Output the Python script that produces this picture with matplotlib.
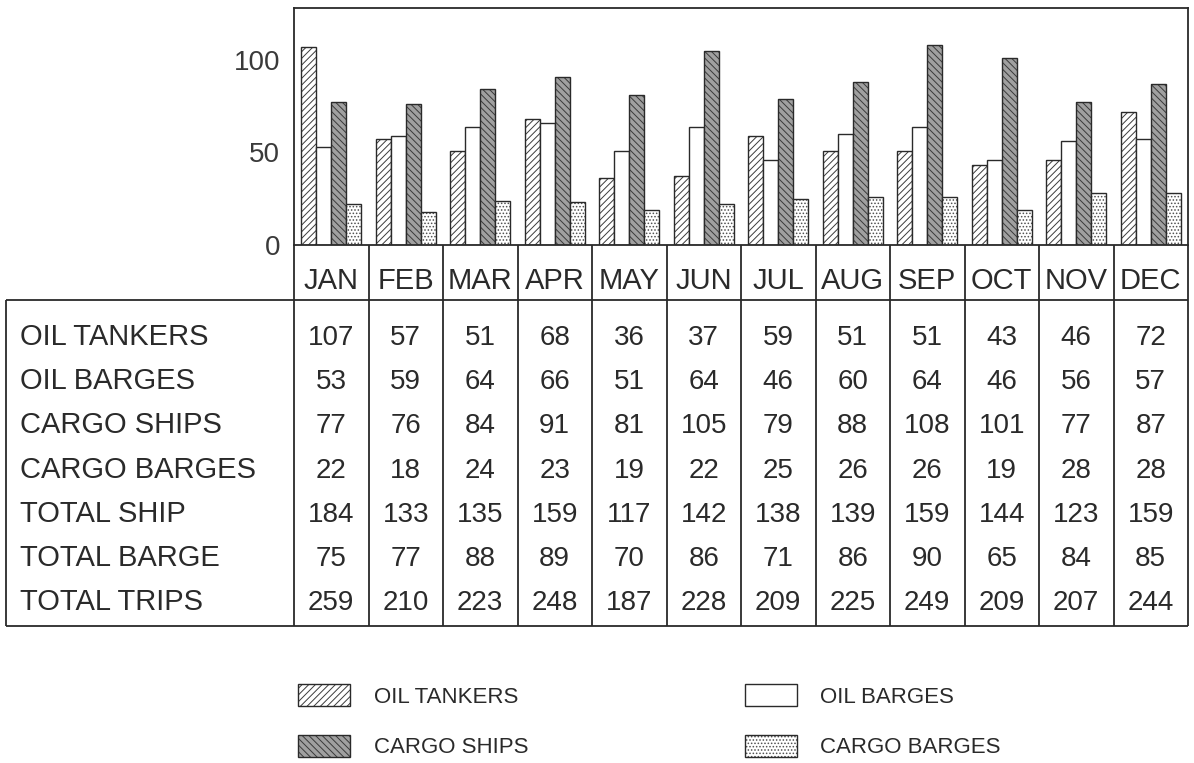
import matplotlib
matplotlib.use("Agg")
import matplotlib.pyplot as plt
from matplotlib.patches import Patch
from matplotlib.legend_handler import HandlerTuple
import numpy as np

plt.rcParams['font.family'] = ['Liberation Sans', 'DejaVu Sans']
plt.rcParams['hatch.linewidth'] = 0.7

# ---------------- data ----------------
months = ["JAN", "FEB", "MAR", "APR", "MAY", "JUN",
          "JUL", "AUG", "SEP", "OCT", "NOV", "DEC"]
oil_tankers = [107, 57, 51, 68, 36, 37, 59, 51, 51, 43, 46, 72]
oil_barges = [53, 59, 64, 66, 51, 64, 46, 60, 64, 46, 56, 57]
cargo_ships = [77, 76, 84, 91, 81, 105, 79, 88, 108, 101, 77, 87]
cargo_barges = [22, 18, 24, 23, 19, 22, 25, 26, 26, 19, 28, 28]
total_ship = [184, 133, 135, 159, 117, 142, 138, 139, 159, 144, 123, 159]
total_barge = [75, 77, 88, 89, 70, 86, 71, 86, 90, 65, 84, 85]
total_trips = [259, 210, 223, 248, 187, 228, 209, 225, 249, 209, 207, 244]
row_labels = ["OIL TANKERS", "OIL BARGES", "CARGO SHIPS", "CARGO BARGES",
              "TOTAL SHIP", "TOTAL BARGE", "TOTAL TRIPS"]
y_ticks = [0, 50, 100]

# ---------------- layout (pixels) ----------------
W, H = 1194, 763
AX_L, AX_R = 294, 1188
AX_T, AX_B = 8, 245
TB_L, TB_T, TB_B = 6, 300, 626
col_w = (AX_R - AX_L) / 12.0
INK = '#2a2a2a'
LW = 1.3

fig = plt.figure(figsize=(W / 100, H / 100), dpi=100)
fig.patch.set_facecolor('white')

ax = fig.add_axes([AX_L / W, 1 - AX_B / H, (AX_R - AX_L) / W, (AX_B - AX_T) / H])

styles = [
    dict(fc='white', hc='#3c3c3c', hatch='/////'),
    dict(fc='white', hc='#555555', hatch=None),
    dict(fc='#a0a0a0', hc='#3a3a3a', hatch='\\\\\\\\\\'),
    dict(fc='white', hc='#505050', hatch='.....'),
]
series = [oil_tankers, oil_barges, cargo_ships, cargo_barges]
names = ["OIL TANKERS", "OIL BARGES", "CARGO SHIPS", "CARGO BARGES"]
x = np.arange(len(months))
bw = 0.2
handles = []
for i, (vals, st) in enumerate(zip(series, styles)):
    pos = x + (i - 1.5) * bw
    ax.bar(pos, vals, bw, facecolor=st['fc'], edgecolor=st['hc'],
           hatch=st['hatch'], linewidth=0)
    ax.bar(pos, vals, bw, fill=False, edgecolor=INK, linewidth=1.0)
    handles.append((Patch(facecolor=st['fc'], edgecolor=st['hc'], hatch=st['hatch'], linewidth=0),
                    Patch(fill=False, edgecolor=INK, linewidth=1.0)))

ax.set_xlim(-0.5, 11.5)
ax.set_ylim(0, 128)
ax.set_xticks([])
ax.set_yticks(y_ticks)
ax.tick_params(axis='y', length=0, pad=10, labelsize=20, labelcolor='#3a3a3a')
for sp in ax.spines.values():
    sp.set_linewidth(LW)
    sp.set_color(INK)

# ---------------- table ----------------
tax = fig.add_axes([TB_L / W, 1 - TB_B / H, (AX_R - TB_L) / W, (TB_B - AX_B) / H])
x_left = -0.5 - (AX_L - TB_L) / col_w
tax.set_xlim(x_left, 11.5)
tax.set_ylim(TB_B, AX_B)
tax.axis('off')

tax.vlines(np.arange(13) - 0.5, AX_B, TB_B, colors=INK, linewidth=LW, clip_on=False)
tax.vlines([x_left], TB_T, TB_B, colors=INK, linewidth=LW, clip_on=False)
tax.hlines([TB_T, TB_B], x_left, 11.5, colors=INK, linewidth=LW, clip_on=False)

for i, m in enumerate(months):
    tax.text(i, 289, m, ha='center', va='baseline', fontsize=21, color=INK)

rows = [oil_tankers, oil_barges, cargo_ships, cargo_barges,
        total_ship, total_barge, total_trips]
row_base0, row_step = 345, 44.2
for r, (lab, vals) in enumerate(zip(row_labels, rows)):
    yb = row_base0 + r * row_step
    tax.text(x_left + 14 / col_w, yb, lab, ha='left', va='baseline', fontsize=21, color=INK)
    for i, v in enumerate(vals):
        tax.text(i, yb, str(v), ha='center', va='baseline', fontsize=20, color=INK)

# ---------------- legend ----------------
order = [0, 2, 1, 3]
leg = fig.legend([handles[k] for k in order], [names[k] for k in order],
                 ncol=2, loc='upper left', bbox_to_anchor=(298 / W, 1 - 684 / H),
                 frameon=False, fontsize=16, handlelength=2.35, handleheight=1.15,
                 handletextpad=1.05, columnspacing=9.75, labelspacing=1.22,
                 borderpad=0, borderaxespad=0,
                 handler_map={tuple: HandlerTuple(ndivide=1, pad=0)})
for t in leg.get_texts():
    t.set_color(INK)

fig.savefig("out.png", dpi=100, facecolor='white')
